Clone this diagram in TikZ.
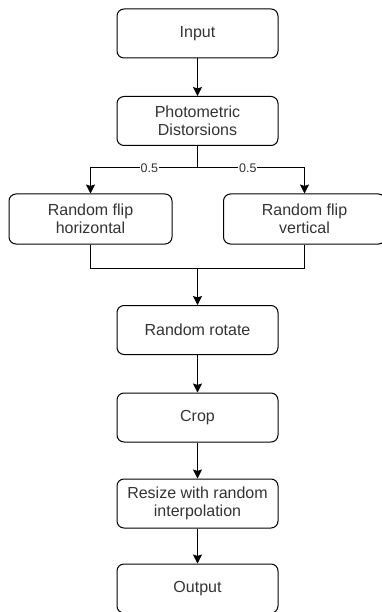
\documentclass[tikz,border=0pt]{standalone}
\usepackage{fontspec}
\setmainfont{Liberation Sans}
\usetikzlibrary{arrows.meta}
\begin{document}
\begin{tikzpicture}[x=1pt,y=-1pt,
  box/.style={draw=black, line width=1pt, rounded corners=7pt, minimum width=161pt, minimum height=49pt, align=center, inner sep=2pt, font=\fontsize{16}{17.5}\selectfont, text=black!80},
  conn/.style={draw=black, line width=1pt},
  arr/.style={conn, -{Stealth[length=9pt,width=9pt,inset=1.5pt]}},
  lbl/.style={fill=white, inner sep=1pt, font=\fontsize{12.5}{14}\selectfont, text=black!80}]
\useasboundingbox (0,0) rectangle (382,612);
\node[box] (in) at (197.5,33.5) {Input};
\node[box] (ph) at (197.5,121) {Photometric\\Distorsions};
\node[box, minimum width=163pt, minimum height=50pt] (fh) at (90.5,219) {Random flip\\horizontal};
\node[box, minimum width=162pt, minimum height=50pt] (fv) at (304.5,219) {Random flip\\vertical};
\node[box] (rot) at (197.5,330) {Random rotate};
\node[box] (cr) at (197.5,417.5) {Crop};
\node[box] (rs) at (197.5,503.5) {Resize with random\\interpolation};
\node[box] (out) at (197.5,588.5) {Output};
\coordinate (br) at (197.5,168);
\coordinate (mg) at (197.5,268);
\draw[arr] (in) -- (ph);
\draw[conn] (ph.south) -- (br);
\draw[arr] (br) -| node[lbl, pos=0.225] {0.5} (fh.north);
\draw[arr] (br) -| node[lbl, pos=0.235] {0.5} (fv.north);
\draw[conn] (fh.south) -- (fh.south |- mg) -- (fv.south |- mg) -- (fv.south);
\draw[arr] (mg) -- (rot);
\draw[arr] (rot) -- (cr);
\draw[arr] (cr) -- (rs);
\draw[arr] (rs) -- (out);
\end{tikzpicture}
\end{document}
